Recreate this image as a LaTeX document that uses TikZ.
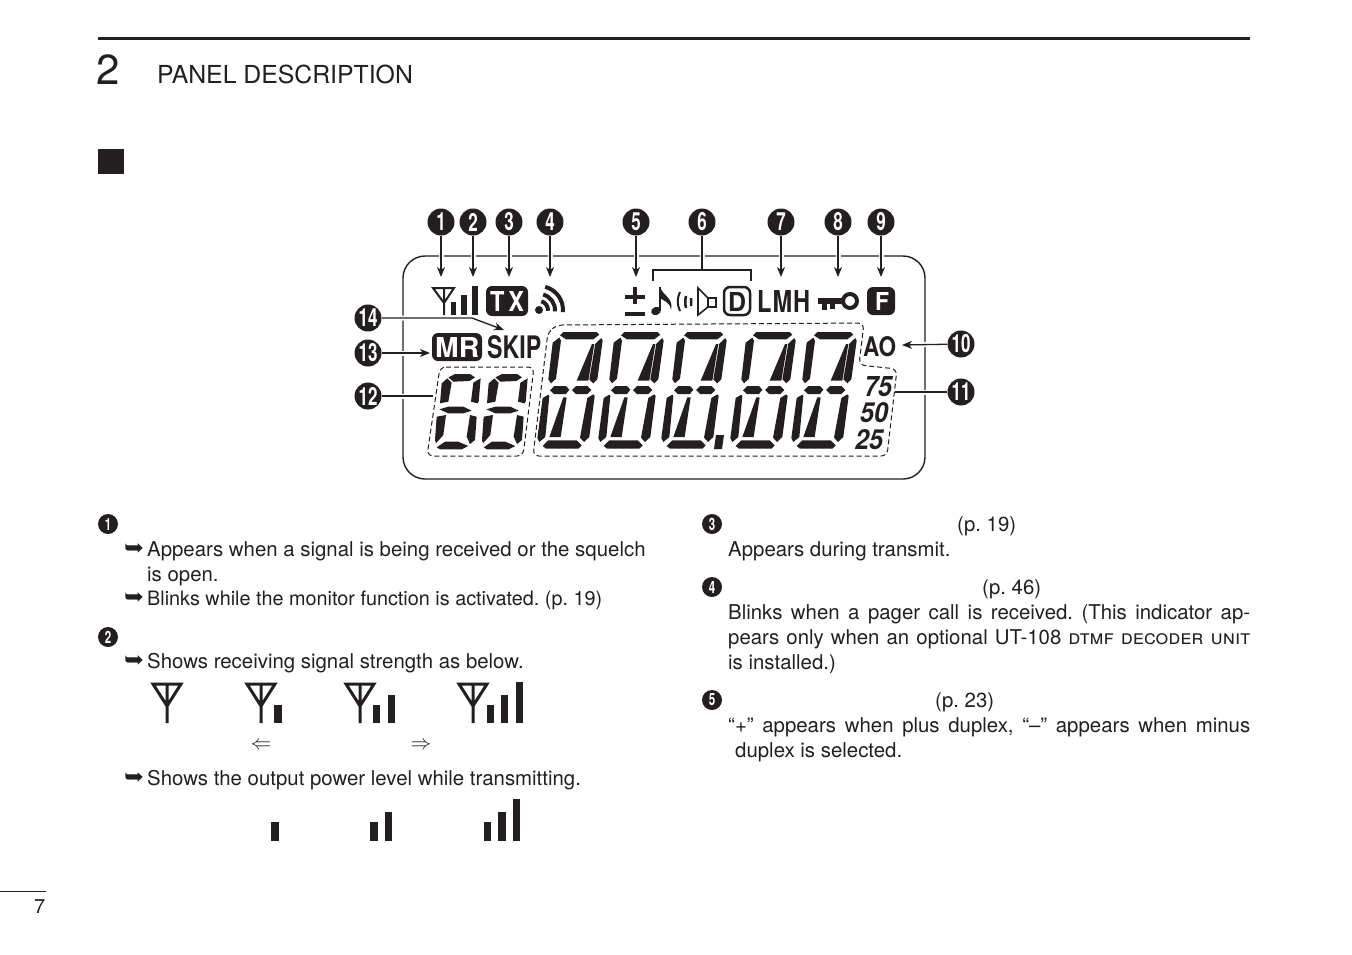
\documentclass[tikz,border=0pt]{standalone}
\usepackage{fontspec}
\setmainfont{TeX Gyre Heros}
\newfontfamily\dingfont{DejaVu Sans}
\usetikzlibrary{arrows.meta}
\definecolor{ink}{HTML}{231F20}
\frenchspacing
\newcommand{\bodysize}{\fontsize{20.4}{25}\selectfont}
\newcommand{\cnum}[1]{\scalebox{.68}[1]{#1}}
\newcommand{\fitbox}[3]{\resizebox{#1pt}{#2pt}{#3}}
\newcommand{\bulletarrow}{\scalebox{1.32}[1.25]{➥}}
% one character of the main display
\newcommand{\lcdchar}[1]{
	\begin{scope}[shift={(#1,322)},scale=1/3]
		\fill[ink] (90,40) -- (100,30) -- (200,30) -- (208,38) -- (190,52) -- (108,52) -- cycle
		(68,62) -- (88,47) -- (93,56) -- (78,170) -- (63,184) -- (55,172) -- cycle
		(196,65) -- (214,48) -- (218,56) -- (202,172) -- (190,184) -- (178,172) -- cycle
		(186,66) -- (193,66) -- (175,176) -- (140,176) -- cycle
		(60,205) -- (73,192) -- (108,192) -- (118,203) -- (108,216) -- (72,216) -- cycle
		(126,204) -- (138,192) -- (172,192) -- (184,204) -- (172,216) -- (138,216) -- cycle
		(38,228) -- (55,218) -- (58,222) -- (46,345) -- (28,360) -- (22,348) -- cycle
		(100,226) -- (110,226) -- (92,345) -- (58,345) -- cycle
		(172,228) -- (190,217) -- (194,222) -- (178,345) -- (162,360) -- (150,347) -- cycle
		(38,372) -- (55,355) -- (140,355) -- (155,370) -- (145,380) -- (48,380) -- cycle;
	\end{scope}
}
% one digit of the small display
\newcommand{\lcddigit}[1]{
	\begin{scope}[shift={(#1,360)},scale=1/3]
		\fill[ink] (85,52) -- (105,42) -- (150,42) -- (165,52) -- (148,63) -- (100,65) -- cycle
		(60,130) -- (65,70) -- (82,55) -- (95,68) -- (85,125) -- cycle
		(182,55) -- (160,68) -- (153,125) -- (172,130) -- (176,125) -- cycle
		(58,148) -- (85,140) -- (130,140) -- (155,152) -- (130,160) -- (85,160) -- cycle
		(50,170) -- (78,165) -- (70,225) -- (48,250) -- (45,240) -- cycle
		(150,165) -- (170,170) -- (165,240) -- (150,252) -- (140,230) -- cycle
		(50,262) -- (75,245) -- (115,245) -- (145,258) -- (125,268) -- (60,268) -- cycle;
	\end{scope}
}
\tikzset{
	numbig/.style={circle,fill=ink,text=white,inner sep=0pt,minimum size=27pt,font=\fontsize{25}{25}\selectfont\bfseries},
	numsmall/.style={circle,fill=ink,text=white,inner sep=0pt,minimum size=20pt,font=\fontsize{17}{17}\selectfont\bfseries},
	pointer/.style={ink,line width=1.3pt,-{Stealth[length=10pt,width=8pt,inset=3pt]},preaction={draw=white,line width=5pt,-}},
	leader/.style={ink,line width=1.3pt,preaction={draw=white,line width=5pt}},
	dashbox/.style={ink,line width=1pt,dash pattern=on 5pt off 3pt,rounded corners=6pt},
	body/.style={anchor=base west,inner sep=0pt,text=ink,font=\bodysize},
	bulletmark/.style={anchor=base west,inner sep=0pt,text=ink,font=\fontsize{18}{18}\selectfont\dingfont},
	lcdlabel/.style={anchor=base west,inner sep=0pt,text=ink,font=\bfseries},
	blackbox/.style={fill=ink,rounded corners=6pt},
	sigline/.style={ink,line width=3pt,line join=miter},
}
\begin{document}
\begin{tikzpicture}[x=1pt,y=-1pt]
	\useasboundingbox (0,0) rectangle (1352,954);
	% Page head
	\draw[ink,line width=3pt] (98,38) -- (1250,38);
	\node[body,font=\fontsize{42}{42}\selectfont] (chapnum) at (96,84) {2};
	\node[body,font=\fontsize{24.8}{25}\selectfont] (chaptitle) at (157,83) {PANEL DESCRIPTION};
	\fill[ink] (98,149) rectangle (124,174);
	
	% Foot
	\draw[ink,line width=1pt] (0,891) -- (46,891);
	\node[body,font=\fontsize{20}{20}\selectfont] (pagenum) at (34,913) {7};
	
	% Display outline
	\draw[ink,line width=1.4pt,rounded corners=22pt] (403,256) rectangle (925,479);
	\draw[dashbox] (548,332) -- (557,325) -- (864,323) -- (859,365) -- (897,369) -- (887,456) -- (533,456) -- cycle;
	\draw[dashbox] (440,367) -- (534,367) -- (523,456) -- (427,456) -- cycle;
	
	% Segments
	\foreach \cx in {530,591,654,723,784} {\lcdchar{\cx}}
	\foreach \cx in {420,467} {\lcddigit{\cx}}
	\fill[ink] (716,435) -- (724,435) -- (722,449) -- (714,449) -- cycle;
	
	% Top row icons
	\draw[ink,line width=2pt] (433,288) -- (454,288) -- (444,303) -- cycle (444,288) -- (444,315);
	\foreach \xa/\xb/\ya in {451/456/302, 461/467/295, 472/478/286} \fill[ink] (\xa,\ya) rectangle (\xb,315);
	\fill[blackbox] (486,286) rectangle (528,316);
	\node[lcdlabel,text=white] (tx) at (490,311) {\fitbox{34}{20}{T\,X}};
	\fill[ink] (539,310) circle (4pt);
	\foreach \r in {9,16,24} \draw[ink,line width=4pt] (539,310) ++(-75:\r) arc (-75:5:\r);
	\fill[ink] (625,295) rectangle (645,299);
	\fill[ink] (633,287) rectangle (637,304);
	\fill[ink] (625,312) rectangle (645,316);
	\fill[ink,rotate around={20:(656,311)}] (656,311) ellipse (5pt and 4pt);
	\draw[ink,line width=2pt] (660,287) -- (660,311);
	\fill[ink] (660,287) .. controls (663,296) and (674,298) .. (671,310) .. controls (670,302) and (664,301) .. (660,298) -- cycle;
	\draw[ink,line width=2pt] (680,292) .. controls (677,298) and (677,305) .. (680,311);
	\draw[ink,line width=2.5pt] (686,296) .. controls (685,300) and (685,304) .. (686,308) (691,298) -- (691,306);
	\draw[ink,line width=1.6pt] (698,288) -- (698,315) -- (708,307) -- (716,307) -- (716,298) -- (708,298) -- cycle (708,298) -- (708,307);
	\draw[ink,line width=2.5pt,rounded corners=6pt] (724,287) rectangle (750,315);
	\node[lcdlabel] (dlabel) at (728,311) {\fitbox{18}{19}{D}};
	\node[lcdlabel] (lmh) at (757,312) {\fitbox{53}{22}{L\hspace{.04em}M\hspace{.04em}H}};
	\fill[ink] (818,298) rectangle (845,304);
	\fill[ink] (822,304) rectangle (827,310);
	\fill[ink] (830,304) rectangle (835,309);
	\draw[ink,line width=4pt] (850,301) circle (7pt);
	\fill[blackbox] (867,287) rectangle (895,315);
	\node[lcdlabel,text=white] (flabel) at (875,310) {\fitbox{14}{18}{F}};
	
	% Second row labels
	\fill[blackbox] (432,333) rectangle (482,361);
	\node[lcdlabel,text=white] (mr) at (435,357) {\fitbox{44}{20}{MR}};
	\node[lcdlabel] (skip) at (487,358) {\fitbox{54}{23}{SKIP}};
	\node[lcdlabel] (ao) at (863,356) {\fitbox{33}{20}{AO}};
	\node[lcdlabel,font=\bfseries\itshape] (step75) at (864,396) {\fitbox{28}{20}{75}};
	\node[lcdlabel,font=\bfseries\itshape] (step50) at (860,422) {\fitbox{28}{20}{50}};
	\node[lcdlabel,font=\bfseries\itshape] (step25) at (855,449) {\fitbox{28}{20}{25}};
	
	% Numbers with arrows
	\foreach \n/\x in {1/441,2/473,3/509,4/550,5/636,7/781,8/838,9/881} {
		\node[numbig] (n\n) at (\x,222) {\cnum{\n}};
		\coordinate (t\n) at (\x,277);
		\draw[pointer] (n\n) -- (t\n);
	}
	\node[numbig] (n6) at (702,222) {\cnum{6}};
	\coordinate (b6) at (702,270);
	\coordinate (b6l) at (653,281);
	\coordinate (b6r) at (751,281);
	\draw[leader] (n6) -- (b6);
	\draw[ink,line width=1.3pt] (b6l) -- ++(0,-11) -- ++(98,0) -- (b6r);
	
	\node[numbig] (n10) at (961,344) {\cnum{10}};
	\node[numbig] (n11) at (961,392) {\cnum{11}};
	\node[numbig] (n12) at (368,396) {\cnum{12}};
	\node[numbig] (n13) at (368,353) {\cnum{13}};
	\node[numbig] (n14) at (368,318) {\cnum{14}};
	\coordinate (t10) at (902,345);
	\coordinate (t11) at (895,392);
	\coordinate (t12) at (433,396);
	\coordinate (t13) at (430,353);
	\coordinate (k14) at (472,318);
	\coordinate (t14) at (504,330);
	\draw[pointer] (n10) -- (t10);
	\draw[leader] (n11) -- (t11);
	\draw[leader] (n12) -- (t12);
	\draw[pointer] (n13) -- (t13);
	\draw[pointer] (n14) -- (k14) -- (t14);
	
	% Left column
	\node[numsmall] (m1) at (108,524) {\cnum{1}};
	\node[bulletmark] (a1) at (124,555) {\bulletarrow};
	\node[body] (l1) at (147,556) {Appears when a signal is being received or the squelch};
	\node[body] (l2) at (147,581) {is open.};
	\node[bulletmark] (a2) at (124,604) {\bulletarrow};
	\node[body] (l3) at (147,605) {\resizebox{455pt}{!}{Blinks while the monitor function is activated. (p. 19)}};
	\node[numsmall] (m2) at (108,637) {\cnum{2}};
	\node[bulletmark] (a3) at (124,667) {\bulletarrow};
	\node[body] (l4) at (147,668) {Shows receiving signal strength as below.};
	\foreach \ax in {167,261,360,473}
		\draw[sigline] (\ax-14,684) -- (\ax+14,684) -- (\ax,706) -- cycle (\ax,684) -- (\ax,723);
	\foreach \xa/\xb/\ya in {274/282/705, 373/380/705, 388/395/695, 487/494/705, 501/508/695, 516/523/682}
		\fill[ink] (\xa,\ya) rectangle (\xb,723);
	\node[text=ink,inner sep=0pt,font=\fontsize{20}{20}\selectfont] (weak) at (261,746) {$\Leftarrow$};
	\node[text=ink,inner sep=0pt,font=\fontsize{20}{20}\selectfont] (strong) at (421,746) {$\Rightarrow$};
	\node[bulletmark] (a4) at (124,784) {\bulletarrow};
	\node[body] (l5) at (147,785) {Shows the output power level while transmitting.};
	\foreach \xa/\xb/\ya in {271/279/822, 370/378/822, 385/392/812, 484/491/822, 498/506/812, 513/520/799}
		\fill[ink] (\xa,\ya) rectangle (\xb,841);
	
	% Right column
	\node[numsmall] (m3) at (712,524) {\cnum{3}};
	\node[body] (p3) at (957,531) {(p. 19)};
	\node[body] (r1) at (728,556) {Appears during transmit.};
	\node[numsmall] (m4) at (712,587) {\cnum{4}};
	\node[body] (p4) at (982,594) {(p. 46)};
	\node[body] (r2) at (728,619) {\makebox[522pt][s]{Blinks when a pager call is received. (This indicator ap-}};
	\node[body] (r3) at (728,644) {\makebox[522pt][s]{pears only when an optional UT-108 \textsc{dtmf decoder unit}}};
	\node[body] (r4) at (728,669) {is installed.)};
	\node[numsmall] (m5) at (712,700) {\cnum{5}};
	\node[body] (p5) at (935,707) {(p. 23)};
	\node[body] (r5) at (728,732) {\makebox[522pt][s]{“+” appears when plus duplex, “–” appears when minus}};
	\node[body] (r6) at (735,757) {duplex is selected.};
\end{tikzpicture}
\end{document}
